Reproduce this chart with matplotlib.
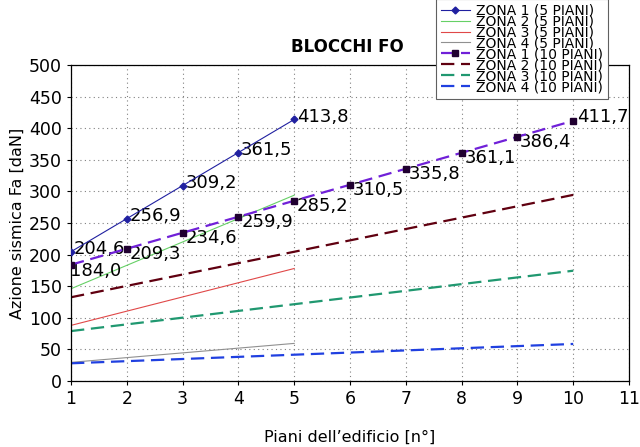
import matplotlib.pyplot as plt

piani5 = [1, 2, 3, 4, 5]
piani10 = [1, 2, 3, 4, 5, 6, 7, 8, 9, 10]

z1_5 = [204.6, 256.9, 309.2, 361.5, 413.8]
z2_5 = [146.0, 183.0, 220.0, 257.0, 294.0]
z3_5 = [88.0, 110.5, 133.0, 155.5, 178.0]
z4_5 = [29.5, 37.0, 44.5, 52.0, 59.5]

z1_10 = [184.0, 209.3, 234.6, 259.9, 285.2, 310.5, 335.8, 361.1, 386.4, 411.7]
z2_10 = [132.5, 150.5, 168.5, 186.5, 204.5, 222.5, 240.5, 258.5, 276.5, 294.5]
z3_10 = [79.0, 89.6, 100.2, 110.9, 121.5, 132.1, 142.7, 153.3, 163.9, 174.5]
z4_10 = [28.0, 31.4, 34.8, 38.2, 41.6, 45.0, 48.4, 51.8, 55.2, 58.6]

labels = ["ZONA 1 (5 PIANI)", "ZONA 2 (5 PIANI)", "ZONA 3 (5 PIANI)", "ZONA 4 (5 PIANI)",
          "ZONA 1 (10 PIANI)", "ZONA 2 (10 PIANI)", "ZONA 3 (10 PIANI)", "ZONA 4 (10 PIANI)"]

def fmt(v):
    return f"{v:.1f}".replace(".", ",")

fig = plt.figure(figsize=(6.4, 4.47), dpi=100)
ax = fig.add_axes([71/640, 1-381/447, (629-71)/640, (381-65)/447])

dash = (0, (6, 3))
ax.plot(piani5, z1_5, color="#2020a0", lw=0.8, marker="D", ms=3.5, label=labels[0], zorder=5)
ax.plot(piani5, z2_5, color="#66d066", lw=0.8, label=labels[1])
ax.plot(piani5, z3_5, color="#e04848", lw=0.8, label=labels[2])
ax.plot(piani5, z4_5, color="#909090", lw=0.8, label=labels[3])
ax.plot(piani10, z1_10, color="#7020d8", lw=1.6, ls=dash, marker="s", ms=5,
        mfc="#200030", mec="#200030", label=labels[4], zorder=5)
ax.plot(piani10, z2_10, color="#600010", lw=1.6, ls=dash, label=labels[5])
ax.plot(piani10, z3_10, color="#209870", lw=1.6, ls=dash, label=labels[6])
ax.plot(piani10, z4_10, color="#2040e0", lw=1.6, ls=dash, label=labels[7])

fs_lab = 13
for x, v in zip(piani5, z1_5):
    ax.annotate(fmt(v), (x, v), xytext=(2, 2), textcoords="offset points",
                ha="left", va="center", fontsize=fs_lab)
n = len(piani10)
for i, (x, v) in enumerate(zip(piani10, z1_10)):
    if i == 0:
        ax.annotate(fmt(v), (x, v), xytext=(-1, 2), textcoords="offset points",
                    ha="left", va="top", fontsize=fs_lab, annotation_clip=False)
    elif i == n - 1:
        ax.annotate(fmt(v), (x, v), xytext=(3, 3), textcoords="offset points",
                    ha="left", va="center", fontsize=fs_lab)
    else:
        ax.annotate(fmt(v), (x, v), xytext=(2, -4), textcoords="offset points",
                    ha="left", va="center", fontsize=fs_lab)

ax.set_xlim(1, 11)
ax.set_ylim(0, 500)
ax.set_xticks(range(1, 12))
ax.set_yticks(range(0, 501, 50))
ax.tick_params(labelsize=12.5, direction="out", length=3, width=0.8)
ax.grid(True, ls=(0, (1, 3)), color="#808080", lw=0.8)
for s in ax.spines.values():
    s.set_linewidth(0.9)
ax.set_xlabel("Piani dell\u2019edificio [n°]", fontsize=11.5, labelpad=16)
ax.set_ylabel("Azione sismica Fa [daN]", fontsize=11.5, labelpad=3)

fig.text(347/640, 1-47/447, "BLOCCHI FO", fontsize=12, fontweight="bold",
         ha="center", va="center")

leg = fig.legend(loc="upper left", bbox_to_anchor=(436/640, 1.003), fontsize=10,
                 frameon=True, fancybox=False, edgecolor="#606060", framealpha=1,
                 borderpad=0.35, labelspacing=-0.22, handlelength=2.1, handletextpad=0.45,
                 borderaxespad=0)
leg.get_frame().set_linewidth(0.8)

fig.savefig("out.png", dpi=100)
